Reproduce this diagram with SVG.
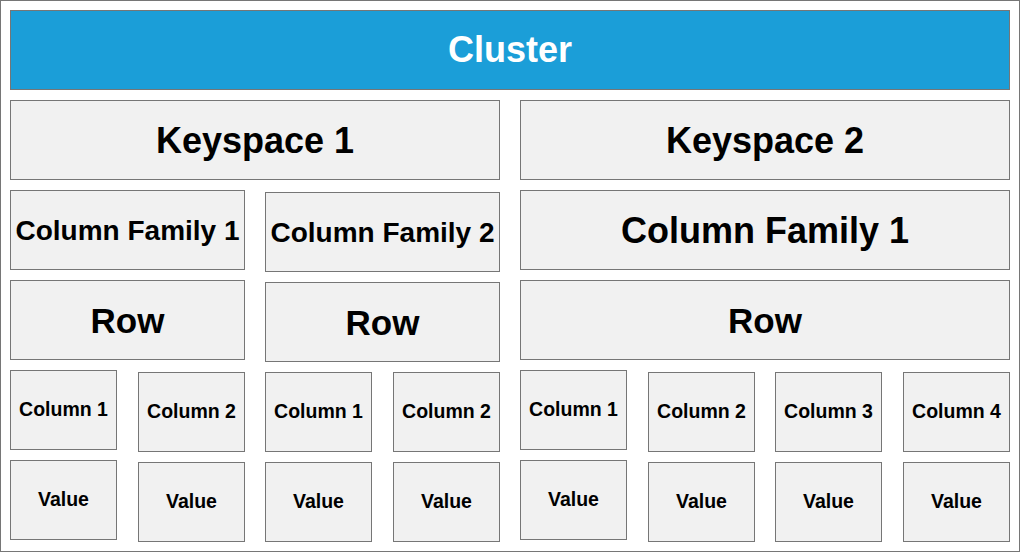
<svg xmlns="http://www.w3.org/2000/svg" width="1020" height="552" viewBox="0 0 1020 552">
<style>
.b{fill:#f1f1f1;stroke:#767676;stroke-width:1}
.t{font-family:"Liberation Sans",Arial,sans-serif;font-weight:bold;fill:#000;text-anchor:middle}
.xl{font-size:36px}
.l{font-size:28px}
.r{font-size:35px}
.s{font-size:19.5px}
</style>
<rect x="0.5" y="0.5" width="1019" height="551" fill="#ffffff" stroke="#767676"/>
<g id="cluster"><rect x="10.5" y="10.5" width="999" height="79" fill="#1b9ed8" stroke="#767676"/><text class="t xl" x="510" y="62" style="fill:#fff">Cluster</text></g>
<g id="ks1"><rect class="b" x="10.5" y="100.5" width="489" height="79"/><text class="t xl" x="255" y="153">Keyspace 1</text></g>
<g id="ks2"><rect class="b" x="520.5" y="100.5" width="489" height="79"/><text class="t xl" x="765" y="153">Keyspace 2</text></g>
<g id="cf1a"><rect class="b" x="10.5" y="190.5" width="234" height="79"/><text class="t l" x="127.5" y="239.5">Column Family 1</text></g>
<g id="cf2a"><rect class="b" x="265.5" y="192.5" width="234" height="79"/><text class="t l" x="382.5" y="241.5">Column Family 2</text></g>
<g id="cf1b"><rect class="b" x="520.5" y="190.5" width="489" height="79"/><text class="t xl" x="765" y="243">Column Family 1</text></g>
<g id="row1"><rect class="b" x="10.5" y="280.5" width="234" height="79"/><text class="t r" x="127.5" y="332.5">Row</text></g>
<g id="row2"><rect class="b" x="265.5" y="282.5" width="234" height="79"/><text class="t r" x="382.5" y="334.5">Row</text></g>
<g id="row3"><rect class="b" x="520.5" y="280.5" width="489" height="79"/><text class="t r" x="765" y="332.5">Row</text></g>
<g id="c1a"><rect class="b" x="10.5" y="370.5" width="106" height="79"/><text class="t s" x="63.5" y="416">Column 1</text></g>
<g id="c2a"><rect class="b" x="138.5" y="372.5" width="106" height="79"/><text class="t s" x="191.5" y="418">Column 2</text></g>
<g id="c1b"><rect class="b" x="265.5" y="372.5" width="106" height="79"/><text class="t s" x="318.5" y="418">Column 1</text></g>
<g id="c2b"><rect class="b" x="393.5" y="372.5" width="106" height="79"/><text class="t s" x="446.5" y="418">Column 2</text></g>
<g id="c1c"><rect class="b" x="520.5" y="370.5" width="106" height="79"/><text class="t s" x="573.5" y="416">Column 1</text></g>
<g id="c2c"><rect class="b" x="648.5" y="372.5" width="106" height="79"/><text class="t s" x="701.5" y="418">Column 2</text></g>
<g id="c3c"><rect class="b" x="775.5" y="372.5" width="106" height="79"/><text class="t s" x="828.5" y="418">Column 3</text></g>
<g id="c4c"><rect class="b" x="903.5" y="372.5" width="106" height="79"/><text class="t s" x="956.5" y="418">Column 4</text></g>
<g id="v1a"><rect class="b" x="10.5" y="460.5" width="106" height="79"/><text class="t s" x="63.5" y="506">Value</text></g>
<g id="v2a"><rect class="b" x="138.5" y="462.5" width="106" height="79"/><text class="t s" x="191.5" y="508">Value</text></g>
<g id="v1b"><rect class="b" x="265.5" y="462.5" width="106" height="79"/><text class="t s" x="318.5" y="508">Value</text></g>
<g id="v2b"><rect class="b" x="393.5" y="462.5" width="106" height="79"/><text class="t s" x="446.5" y="508">Value</text></g>
<g id="v1c"><rect class="b" x="520.5" y="460.5" width="106" height="79"/><text class="t s" x="573.5" y="506">Value</text></g>
<g id="v2c"><rect class="b" x="648.5" y="462.5" width="106" height="79"/><text class="t s" x="701.5" y="508">Value</text></g>
<g id="v3c"><rect class="b" x="775.5" y="462.5" width="106" height="79"/><text class="t s" x="828.5" y="508">Value</text></g>
<g id="v4c"><rect class="b" x="903.5" y="462.5" width="106" height="79"/><text class="t s" x="956.5" y="508">Value</text></g>
<g id="connectors"></g>
</svg>
